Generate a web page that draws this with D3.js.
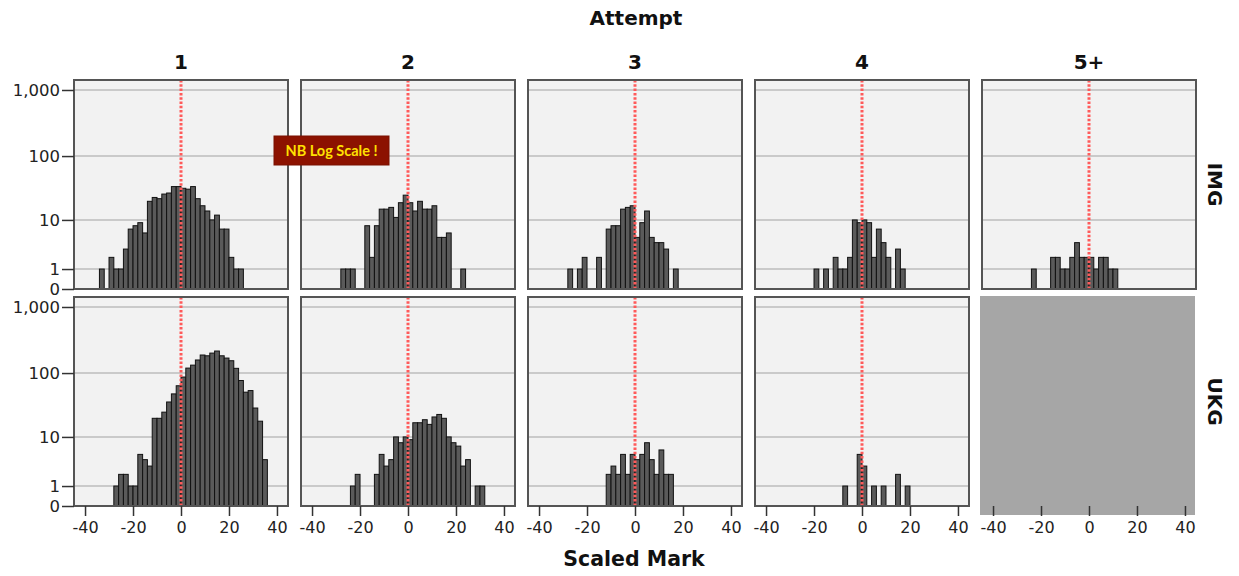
<!DOCTYPE html>
<html>
<head>
<meta charset="utf-8">
<script src="https://cdn.jsdelivr.net/npm/d3@7"></script>
<style>
  body { margin: 0; background: #fff; }
  svg { display: block; font-family: "DejaVu Sans", Verdana, sans-serif; }
</style>
</head>
<body>
<div id="chart"></div>
<script>
// Facet labels
const attempts = ['1', '2', '3', '4', '5+'];
const cohorts = ['IMG', 'UKG'];

// Histogram bins are 2 marks wide; each panel lists the start of its first bin and the counts
const binWidth = 2;
const imgStarts = [-34, -28, -28, -20, -24];
const imgCounts = [
  [1, 0, 2, 1, 1, 3, 7, 8, 9, 6, 20, 23, 22, 26, 27, 34, 34, 32, 31, 34, 22, 17, 14, 10, 12, 7, 7, 2, 1, 1],
  [1, 1, 1, 0, 0, 8, 2, 8, 15, 15, 16, 11, 19, 25, 19, 14, 20, 15, 15, 17, 5, 5, 6, 0, 0, 1],
  [1, 0, 1, 2, 0, 0, 2, 0, 7, 8, 8, 15, 16, 17, 5, 9, 14, 5, 4, 4, 3, 0, 1],
  [1, 0, 1, 0, 2, 1, 1, 2, 10, 9, 10, 9, 2, 7, 4, 2, 0, 3, 1],
  [1, 0, 0, 0, 2, 2, 1, 1, 2, 4, 2, 2, 2, 1, 2, 2, 1, 1],
];
const ukgStarts = [-28, -24, -12, -8, null];
const ukgCounts = [
  [1, 2, 2, 1, 1, 5, 4, 3, 20, 20, 25, 36, 48, 64, 87, 119, 132, 158, 188, 183, 201, 216, 183, 169, 154, 118, 77, 51, 54, 29, 18, 4],
  [1, 2, 0, 0, 0, 2, 5, 3, 4, 10, 8, 10, 9, 17, 17, 19, 16, 21, 23, 20, 10, 8, 7, 3, 4, 0, 1, 1],
  [2, 3, 2, 5, 2, 5, 4, 5, 8, 4, 2, 6, 2, 2],
  [1, 0, 0, 5, 3, 0, 1, 0, 1, 0, 0, 2, 0, 1],
  null,
];

const yTicks = [0, 1, 10, 100, 1000];
const gridValues = [1, 10, 100, 1000];
const xTicks = [-40, -20, 0, 20, 40];
const refMark = 0;

const width = 1239;
const height = 576;

const panelLeft = 74;
const panelStep = 227;
const panelW = 214;
const rowTops = [80, 297];
const panelH = 209;

const svg = d3.select('#chart').append('svg')
  .attr('width', width)
  .attr('height', height);

const x = d3.scaleLinear()
  .domain([-44.6, 44.6])
  .range([0, panelW]);

// Safe log: log(count + 1), so 0 sits on the baseline
const y = d3.scaleSymlog()
  .constant(1)
  .domain([0, 1415])
  .range([panelH, 0]);

const rows = [
  { name: cohorts[0], starts: imgStarts, counts: imgCounts },
  { name: cohorts[1], starts: ukgStarts, counts: ukgCounts },
];

rows.forEach((row, r) => {
  attempts.forEach((a, c) => {
    const g = svg.append('g')
      .attr('transform', `translate(${panelLeft + c * panelStep}, ${rowTops[r]})`);

    if (row.counts[c] === null) {
      // empty facet
      g.append('rect')
        .attr('x', -2)
        .attr('y', -1)
        .attr('width', panelW + 1)
        .attr('height', panelH + 10)
        .attr('fill', '#a6a6a6');
      return;
    }

    g.append('rect')
      .attr('width', panelW)
      .attr('height', panelH)
      .attr('fill', '#f2f2f2');

    g.selectAll('.grid')
      .data(gridValues)
      .enter().append('line')
      .attr('x1', 0)
      .attr('x2', panelW)
      .attr('y1', d => y(d))
      .attr('y2', d => y(d))
      .attr('stroke', '#bdbdbd')
      .attr('stroke-width', 1.5);

    const bins = row.counts[c].map((n, i) => ({
      x0: row.starts[c] + i * binWidth,
      x1: row.starts[c] + (i + 1) * binWidth,
      n,
    })).filter(d => d.n > 0);

    g.selectAll('.bar')
      .data(bins)
      .enter().append('rect')
      .attr('x', d => x(d.x0))
      .attr('y', d => y(d.n))
      .attr('width', d => x(d.x1) - x(d.x0))
      .attr('height', d => panelH - y(d.n))
      .attr('fill', '#5a5a5a')
      .attr('stroke', '#111')
      .attr('stroke-width', 1);

    g.append('line')
      .attr('x1', x(refMark))
      .attr('x2', x(refMark))
      .attr('y1', 0)
      .attr('y2', panelH)
      .attr('stroke', '#ff5a5a')
      .attr('stroke-width', 3)
      .attr('stroke-dasharray', '2.5,1.8');

    g.append('rect')
      .attr('width', panelW)
      .attr('height', panelH)
      .attr('fill', 'none')
      .attr('stroke', '#555')
      .attr('stroke-width', 2);
  });

  // y axis on the first column
  const yAxis = svg.append('g')
    .attr('transform', `translate(${panelLeft}, ${rowTops[r]})`)
    .call(d3.axisLeft(y)
      .tickValues(yTicks)
      .tickFormat(d3.format(','))
      .tickSize(12)
      .tickPadding(2));
  yAxis.select('.domain').remove();
  yAxis.selectAll('line').attr('stroke', '#333').attr('stroke-width', 1.5);
  yAxis.selectAll('text')
    .attr('font-size', 16.5)
    .attr('font-family', '"DejaVu Sans", sans-serif')
    .attr('fill', '#222');

  // row label
  svg.append('text')
    .attr('transform', `translate(1208, ${rowTops[r] + panelH / 2}) rotate(90)`)
    .attr('text-anchor', 'middle')
    .attr('font-size', 20)
    .attr('font-weight', 'bold')
    .attr('fill', '#111')
    .text(row.name);
});

// x axes under the bottom row
attempts.forEach((a, c) => {
  const xAxis = svg.append('g')
    .attr('transform', `translate(${panelLeft + c * panelStep}, ${rowTops[1] + panelH})`)
    .call(d3.axisBottom(x)
      .tickValues(xTicks)
      .tickFormat(d => (d < 0 ? '-' + Math.abs(d) : String(d)))
      .tickSize(10)
      .tickPadding(6));
  xAxis.select('.domain').remove();
  xAxis.selectAll('line').attr('stroke', '#333').attr('stroke-width', 1.5);
  xAxis.selectAll('text')
    .attr('font-size', 16)
    .attr('font-family', '"DejaVu Sans", sans-serif')
    .attr('fill', '#222');

  // column header
  svg.append('text')
    .attr('x', panelLeft + c * panelStep + panelW / 2)
    .attr('y', 69)
    .attr('text-anchor', 'middle')
    .attr('font-size', 20)
    .attr('font-weight', 'bold')
    .attr('fill', '#111')
    .text(a);
});

svg.append('text')
  .attr('x', 636)
  .attr('y', 25)
  .attr('text-anchor', 'middle')
  .attr('font-size', 20)
  .attr('font-weight', 'bold')
  .attr('fill', '#111')
  .text('Attempt');

svg.append('text')
  .attr('x', 634)
  .attr('y', 566)
  .attr('text-anchor', 'middle')
  .attr('font-size', 20.5)
  .attr('font-weight', 'bold')
  .attr('fill', '#111')
  .text('Scaled Mark');

// note box
const note = svg.append('g').attr('transform', 'translate(274, 136)');
note.append('rect')
  .attr('width', 115)
  .attr('height', 29)
  .attr('fill', '#8c1200')
  .attr('stroke', '#7a1000');
note.append('text')
  .attr('x', 57.5)
  .attr('y', 19.5)
  .attr('text-anchor', 'middle')
  .attr('font-family', 'Lato, "Open Sans", sans-serif')
  .attr('font-size', 14.5)
  .attr('font-weight', 'bold')
  .attr('fill', '#ffe100')
  .text('NB Log Scale !');
</script>
</body>
</html>
